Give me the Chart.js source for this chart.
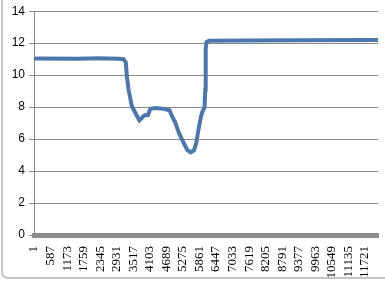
<!DOCTYPE html>
<html>
<head>
<meta charset="utf-8">
<script src="https://cdn.jsdelivr.net/npm/chart.js@4"></script>
<style>
  html, body { margin: 0; padding: 0; background: #fff; overflow: hidden; }
  #wrap { position: relative; width: 385px; height: 282px; }
  #frame {
    position: absolute; left: 1px; top: -12px; width: 410px; height: 291px;
    border: 2px solid #c4c4c4; border-radius: 7px; box-sizing: border-box;
  }
  canvas { position: absolute; left: 0; top: 0; }
</style>
</head>
<body>
<div id="wrap">
  <div id="frame"></div>
  <canvas id="chart" width="385" height="282"></canvas>
</div>
<script>
// --- Daten ---
const xValues = [1, 1568, 2281, 2993, 3171, 3253, 3289, 3349, 3467, 3588, 3731, 3823,
  3866, 3944, 4037, 4122, 4300, 4596, 4799, 4881, 5013, 5130, 5248, 5426, 5547,
  5665, 5747, 5843, 5914, 5967, 6039, 6067, 6081, 6110, 6199, 7624, 9405, 12183];
const yValues = [11.04, 11.03, 11.06, 11.03, 11.0, 10.79, 9.94, 9.1, 8.05, 7.65, 7.17, 7.32,
  7.43, 7.5, 7.5, 7.89, 7.95, 7.89, 7.8, 7.46, 7.0, 6.39, 5.95, 5.32, 5.17,
  5.29, 5.76, 6.77, 7.4, 7.72, 7.97, 9.1, 11.63, 12.07, 12.15, 12.16, 12.18, 12.2];
const xTickLabels = [1, 587, 1173, 1759, 2345, 2931, 3517, 4103, 4689, 5275, 5861,
  6447, 7033, 7619, 8205, 8791, 9377, 9963, 10549, 11135, 11721];
const yTicks = [0, 2, 4, 6, 8, 10, 12, 14];

const points = xValues.map((x, i) => ({ x: x, y: yValues[i] }));

new Chart(document.getElementById("chart").getContext("2d"), {
  type: "line",
  data: {
    datasets: [{
      data: points,
      borderColor: "#4a77ad",
      borderWidth: 4,
      pointRadius: 0,
      tension: 0,
      fill: false,
    }],
  },
  options: {
    responsive: false,
    animation: false,
    devicePixelRatio: 1,
    layout: { padding: { top: 6, right: 7, left: 0, bottom: 0 } },
    plugins: { legend: { display: false }, tooltip: { enabled: false } },
    scales: {
      x: {
        type: "linear",
        min: 1,
        max: 12183,
        afterBuildTicks: (scale) => {
          scale.ticks = xTickLabels.map((v) => ({ value: v }));
        },
        afterFit: (scale) => { scale.height = 47; },
        ticks: {
          autoSkip: false,
          minRotation: 90,
          maxRotation: 90,
          padding: 3,
          color: "#000",
          font: { family: "Liberation Serif", size: 13 },
          callback: (v) => String(v),
        },
        grid: { display: false },
        border: { color: "#8c8c8c", width: 5 },
      },
      y: {
        min: 0,
        max: 14,
        afterBuildTicks: (scale) => {
          scale.ticks = yTicks.map((v) => ({ value: v }));
        },
        afterFit: (scale) => { scale.width = 34; },
        ticks: {
          padding: 4,
          color: "#000",
          font: { family: "Liberation Sans", size: 12 },
        },
        grid: { color: "#8a8a8a", lineWidth: 1, tickLength: 5 },
        border: { color: "#8a8a8a", width: 1 },
      },
    },
  },
});
</script>
</body>
</html>
